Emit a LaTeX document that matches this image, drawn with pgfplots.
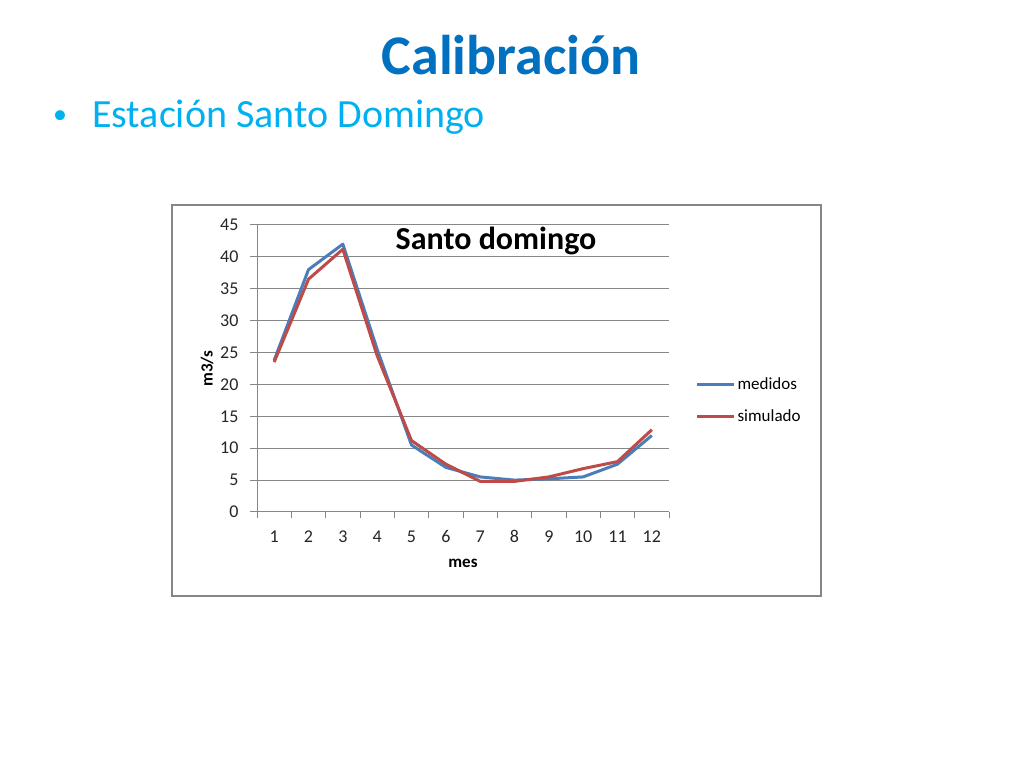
\documentclass[border=0pt]{standalone}
\usepackage{pgfplots}
\pgfplotsset{compat=1.18}
\usepackage{fontspec}
\setmainfont{Carlito}
\definecolor{ttl}{HTML}{0070C0}
\definecolor{bul}{HTML}{00B0F0}
\definecolor{med}{HTML}{4A7EBB}
\definecolor{sim}{HTML}{BE4B48}
\definecolor{grd}{HTML}{868686}
\begin{document}
\begin{tikzpicture}[x=1pt,y=1pt]
\fill[white] (0,0) rectangle (1024,768);
\node[anchor=base, text=ttl, font=\fontsize{56}{60}\selectfont\bfseries, inner sep=0pt] at (511,693) {Calibración};
\node[anchor=base, text=bul, font=\fontsize{28}{32}\selectfont, inner sep=0pt] at (60,644) {•};
\node[anchor=base west, text=bul, font=\fontsize{40}{44}\selectfont, inner sep=0pt] at (92,640) {Estación Santo Domingo};
\draw[grd, line width=1.5pt] (172,563) rectangle (821,172);
\begin{axis}[
  at={(257pt,256pt)}, anchor=south west,
  scale only axis, width=412pt, height=287pt,
  xmin=0.5, xmax=12.5, ymin=0, ymax=45,
  axis lines=left, axis line style={-, grd, line width=1pt},
  xtick={1,...,12}, minor xtick={0.5,1.5,...,12.5},
  ytick={0,5,...,45},
  major x tick style={draw=none},
  minor x tick style={grd, line width=1pt},
  major y tick style={grd, line width=1pt},
  tick align=outside, major tick length=7pt, minor tick length=6pt,
  ymajorgrids, grid style={grd, line width=1pt},
  ticklabel style={font=\fontsize{18}{20}\selectfont, text=black!85},
  /pgf/number format/assume math mode=true,
  xticklabel style={text height=12pt, text depth=0pt, yshift=-8pt},
  yticklabel style={xshift=-8pt},
  xlabel={mes}, ylabel={m3/s},
  label style={font=\fontsize{17}{19}\selectfont\bfseries},
  xlabel style={at={(axis description cs:0.5,-0.178)}, anchor=center},
  ylabel style={at={(axis description cs:-0.121,0.5)}, anchor=center, rotate=0},
  legend style={draw=none, fill=none, at={(axis description cs:1.064,0.388)}, anchor=west,
    font=\fontsize{17}{19}\selectfont, inner sep=0pt, row sep=15pt},
  legend cell align=left,
  legend image code/.code={\draw[#1] (0pt,0pt) -- (37pt,0pt);},
  every axis plot/.append style={line width=3pt, line join=round},
]
\addplot[med] coordinates {(1,23.8) (2,38) (3,42) (4,25.5) (5,10.5) (6,7) (7,5.5) (8,5) (9,5.2) (10,5.5) (11,7.5) (12,12)};
\addlegendentry{medidos}
\addplot[sim] coordinates {(1,23.5) (2,36.5) (3,41.2) (4,24.5) (5,11.2) (6,7.5) (7,4.8) (8,4.8) (9,5.5) (10,6.8) (11,7.9) (12,12.9)};
\addlegendentry{simulado}
\node[font=\fontsize{32}{35}\selectfont\bfseries, anchor=center] at (axis description cs:0.58,0.944) {Santo domingo};
\end{axis}
\end{tikzpicture}
\end{document}
